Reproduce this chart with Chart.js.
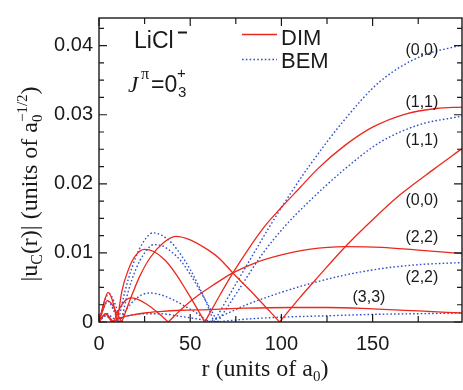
<!DOCTYPE html>
<html><head><meta charset="utf-8">
<script src="https://cdn.jsdelivr.net/npm/chart.js@4/dist/chart.umd.min.js"></script>
<style>html,body{margin:0;padding:0;background:#fff;}#c{display:block;}</style>
</head><body>
<canvas id="c" width="463" height="390"></canvas>
<script>
// ---- data: |u_c(r)| per channel, lobes split at the nodes ----
const dim00 = [
  [[0,0],[2.5,0.0020],[4.5,0.0031],[7,0.0026],[10,0.0012],[12.5,0]],
  [[12.5,0],[18.8,0.0044],[22.3,0.0066],[28,0.0093],[35,0.0114],[42,0.0124],[50,0.0119],[60,0.0104],[66,0.0092],[73.4,0.0071],[86,0.0037],[99,0]],
  [[99,0],[110,0.0035],[120,0.0065],[135,0.0109],[150,0.0148],[165,0.0184],[184,0.0222],[199,0.0251]]
];
const dim11 = [
  [[0,0],[3,0.0031],[5,0.0043],[7.5,0.0030],[10,0]],
  [[10,0],[12.5,0.0044],[16,0.0075],[20,0.0096],[25,0.0105],[30,0.0102],[36,0.0090],[42,0.0070],[48,0.0045],[53,0.0023],[58,0]],
  [[58,0],[65,0.0033],[73.4,0.0071],[82,0.0106],[90.7,0.0138],[100,0.0166],[110,0.0194],[120,0.0222],[135,0.0256],[150,0.0282],[168,0.0301],[185,0.0309],[199,0.0311]]
];
const dim22 = [
  [[0,0],[2,0.0008],[4,0.0012],[6,0.0006],[8,0]],
  [[8,0],[11,0.0018],[14,0.0030],[17.5,0.0035],[21,0.0033],[26,0.0026],[32,0.0014],[38,0]],
  [[38,0],[45,0.0018],[52,0.0034],[60.6,0.0050],[67,0.0061],[73.4,0.0071],[85,0.0085],[100,0.0097],[115,0.0105],[135,0.0109],[155,0.0108],[175,0.0104],[199,0.0099]]
];
const dim33 = [
  [[0,0],[2,0.0008],[3.5,0.0012],[5,0.0008],[7,0]],
  [[7,0],[12,0.0006],[18,0.0010],[25,0.0013],[33,0.0015],[45,0.0017],[60,0.0018],[80,0.0020],[105,0.0021],[125,0.0021],[150,0.0019],[175,0.0016],[199,0.0013]]
];
const bem00 = [
  [[0,0],[2.5,0.0020],[5,0.0030],[7.5,0.0020],[10.5,0]],
  [[10.5,0],[14.2,0.0044],[18,0.0078],[22,0.0105],[26,0.0122],[29.5,0.0129],[34,0.0126],[40,0.0114],[45,0.0097],[50,0.0076],[55,0.0050],[59,0.0027],[63,0]],
  [[63,0],[75,0.0055],[85,0.0100],[93.5,0.0138],[105,0.0186],[114.5,0.0223],[135,0.0294],[154,0.0348],[176,0.0384],[199,0.0401]]
];
const bem11 = [
  [[0,0],[3,0.0030],[5.5,0.0041],[8.5,0.0028],[12,0]],
  [[12,0],[16,0.0044],[20,0.0075],[25,0.0100],[30,0.0112],[35,0.0110],[40,0.0101],[45,0.0088],[50,0.0069],[55,0.0047],[60,0.0024],[65,0]],
  [[65,0],[75,0.0040],[90,0.0100],[101.7,0.0138],[115,0.0174],[135,0.0222],[154,0.0260],[175,0.0285],[199,0.0298]]
];
const bem22 = [
  [[0,0],[2.5,0.0008],[4.5,0.0012],[7,0.0007],[11,0]],
  [[11,0],[15,0.0018],[20,0.0033],[24,0.0040],[28,0.0042],[33,0.0040],[40,0.0033],[47,0.0023],[54,0.0012],[60,0]],
  [[60,0],[70,0.0012],[80,0.0024],[90,0.0034],[100,0.0043],[115,0.0055],[135,0.0068],[154,0.0077],[175,0.0083],[199,0.0086]]
];
const bem33 = [
  [[0,0],[2,0.0006],[4,0.0009],[6,0.0004],[8,0]],
  [[8,0],[12,0.0006],[18,0.0010],[25,0.0012],[33,0.0012],[45,0.0008],[55,0.0004],[64,0]],
  [[64,0],[80,0.0004],[100,0.0007],[125,0.0009],[150,0.0011],[175,0.0012],[199,0.0013]]
];
const xMajorTicks = [0,50,100,150];
const xMinorTicks = [25,75,125,175];
const yMajorTicks = [0,0.01,0.02,0.03,0.04];
const yMinorTicks = [0.0025,0.005,0.0075,0.0125,0.015,0.0175,0.0225,0.025,0.0275,0.0325,0.035,0.0375,0.0425];
const xMax = 199, yMax = 0.044;
const seriesNames = ['DIM','BEM'];
const channelLabels = [
  {t:'(0,0)', r:177, u:0.0393},
  {t:'(1,1)', r:177, u:0.0317},
  {t:'(1,1)', r:177, u:0.0262},
  {t:'(0,0)', r:177, u:0.0175},
  {t:'(2,2)', r:177, u:0.0122},
  {t:'(2,2)', r:177, u:0.0064},
  {t:'(3,3)', r:148, u:0.0035}
];

const RED = 'rgb(236,40,28)', BLUE = 'rgb(45,80,200)';
function toData(lobes){
  const out = [];
  lobes.forEach((lobe,i)=>{
    if (i>0) out.push({x:lobe[0][0], y:null});
    lobe.forEach(p=>out.push({x:p[0], y:p[1]}));
  });
  return out;
}
const dimSet = l => ({data:toData(l), borderColor:RED, borderWidth:1.3, pointRadius:0, cubicInterpolationMode:'monotone', spanGaps:false, fill:false});
const bemSet = l => ({data:toData(l), borderColor:BLUE, borderWidth:1.4, borderDash:[1.6,2.2], pointRadius:0, cubicInterpolationMode:'monotone', spanGaps:false, fill:false});

const SANS = "'Liberation Sans', Arial, sans-serif";
const SERIF = "'Liberation Serif', 'Times New Roman', serif";

function drawRuns(ctx, runs, x, y, align){
  let w = 0, cur = 0;
  const pos = [];
  runs.forEach(r=>{
    ctx.font = r.font;
    const rw = ctx.measureText(r.t).width;
    pos.push(cur);
    if (!r.stack) cur += rw;
    w = Math.max(w, cur);
  });
  const x0 = align==='center' ? x - w/2 : x;
  runs.forEach((r,i)=>{
    ctx.font = r.font;
    ctx.fillText(r.t, x0 + pos[i], y + (r.dy||0));
  });
}

const framePlugin = {
  id:'frame',
  afterDatasetsDraw(chart){
    const {ctx, chartArea:a, scales:{x,y}} = chart;
    ctx.save();
    ctx.strokeStyle = '#1a1a1a';
    ctx.lineWidth = 1.4;
    ctx.strokeRect(a.left, a.top, a.right-a.left, a.bottom-a.top);
    ctx.lineWidth = 1.2;
    ctx.beginPath();
    const xt = (v,L)=>{ const p = x.getPixelForValue(v); ctx.moveTo(p,a.bottom); ctx.lineTo(p,a.bottom-L); ctx.moveTo(p,a.top); ctx.lineTo(p,a.top+L); };
    const yt = (v,L)=>{ const p = y.getPixelForValue(v); ctx.moveTo(a.left,p); ctx.lineTo(a.left+L,p); ctx.moveTo(a.right,p); ctx.lineTo(a.right-L,p); };
    xMajorTicks.forEach(v=>xt(v,8)); xMinorTicks.forEach(v=>xt(v,6));
    yMajorTicks.forEach(v=>yt(v,8)); yMinorTicks.forEach(v=>yt(v,5));
    ctx.stroke();
    ctx.restore();
  },
  afterDraw(chart){
    const {ctx, scales:{x,y}} = chart;
    ctx.save();
    ctx.fillStyle = '#1a1a1a';
    ctx.textBaseline = 'alphabetic';
    // axis titles
    drawRuns(ctx, [
      {t:'r (units of a', font:'24px '+SERIF},
      {t:'0', font:'15px '+SERIF, dy:5},
      {t:')', font:'24px '+SERIF}
    ], 265, 376, 'center');
    ctx.save();
    ctx.translate(37, 184);
    ctx.rotate(-Math.PI/2);
    drawRuns(ctx, [
      {t:'|u', font:'24px '+SERIF},
      {t:'C', font:'16px '+SERIF, dy:5},
      {t:'(r)| (units of a', font:'24px '+SERIF},
      {t:'0', font:'15px '+SERIF, dy:5, stack:true},
      {t:'\u22121/2', font:'15px '+SERIF, dy:-10},
      {t:')', font:'24px '+SERIF}
    ], 0, 0, 'center');
    ctx.restore();
    // system labels
    ctx.textAlign = 'left';
    ctx.font = '23px '+SANS;
    ctx.fillText('LiCl', 134, 48);
    ctx.fillRect(178, 31.5, 9, 2);
    ctx.font = 'italic 23px '+SERIF;
    ctx.fillText('J', 128, 92);
    ctx.font = '16px '+SERIF;
    ctx.fillText('\u03C0', 141, 79);
    ctx.font = '23px '+SANS;
    ctx.fillText('=0', 151, 92);
    ctx.font = '15px '+SANS;
    ctx.fillText('+', 177, 78);
    ctx.fillText('3', 178, 97);
    // legend
    ctx.lineWidth = 1.3;
    ctx.strokeStyle = RED;
    ctx.beginPath(); ctx.moveTo(242,34.5); ctx.lineTo(277,34.5); ctx.stroke();
    ctx.strokeStyle = BLUE; ctx.lineWidth = 1.4; ctx.setLineDash([1.6,2.2]);
    ctx.beginPath(); ctx.moveTo(242,59.5); ctx.lineTo(277,59.5); ctx.stroke();
    ctx.setLineDash([]);
    ctx.font = '22px '+SANS;
    ctx.fillText(seriesNames[0], 281, 45);
    ctx.fillText(seriesNames[1], 281, 68);
    // channel labels
    ctx.font = '16px '+SANS;
    ctx.textAlign = 'center';
    ctx.textBaseline = 'middle';
    channelLabels.forEach(l=>ctx.fillText(l.t, x.getPixelForValue(l.r), y.getPixelForValue(l.u)));
    ctx.restore();
  }
};

new Chart(document.getElementById('c'), {
  type:'line',
  data:{datasets:[dimSet(dim00),dimSet(dim11),dimSet(dim22),dimSet(dim33),bemSet(bem00),bemSet(bem11),bemSet(bem22),bemSet(bem33)]},
  options:{
    responsive:false, animation:false, devicePixelRatio:1,
    layout:{padding:{top:3,right:1,left:0,bottom:0}},
    plugins:{legend:{display:false}, tooltip:{enabled:false}},
    scales:{
      x:{type:'linear', min:0, max:xMax,
        grid:{display:false, drawTicks:false}, border:{display:false},
        afterBuildTicks:s=>{s.ticks = xMajorTicks.map(v=>({value:v}));},
        afterFit:s=>{s.height = 68;},
        ticks:{color:'#1a1a1a', font:{family:SANS, size:20}, padding:10, maxRotation:0, autoSkip:false, callback:v=>String(v)}},
      y:{type:'linear', min:0, max:yMax,
        grid:{display:false, drawTicks:false}, border:{display:false},
        afterBuildTicks:s=>{s.ticks = yMajorTicks.map(v=>({value:v}));},
        afterFit:s=>{s.width = 99;},
        ticks:{color:'#1a1a1a', font:{family:SANS, size:20}, padding:6, autoSkip:false, callback:v=>v===0?'0':v.toFixed(2)}}
    }
  },
  plugins:[framePlugin]
});
</script>
</body></html>
